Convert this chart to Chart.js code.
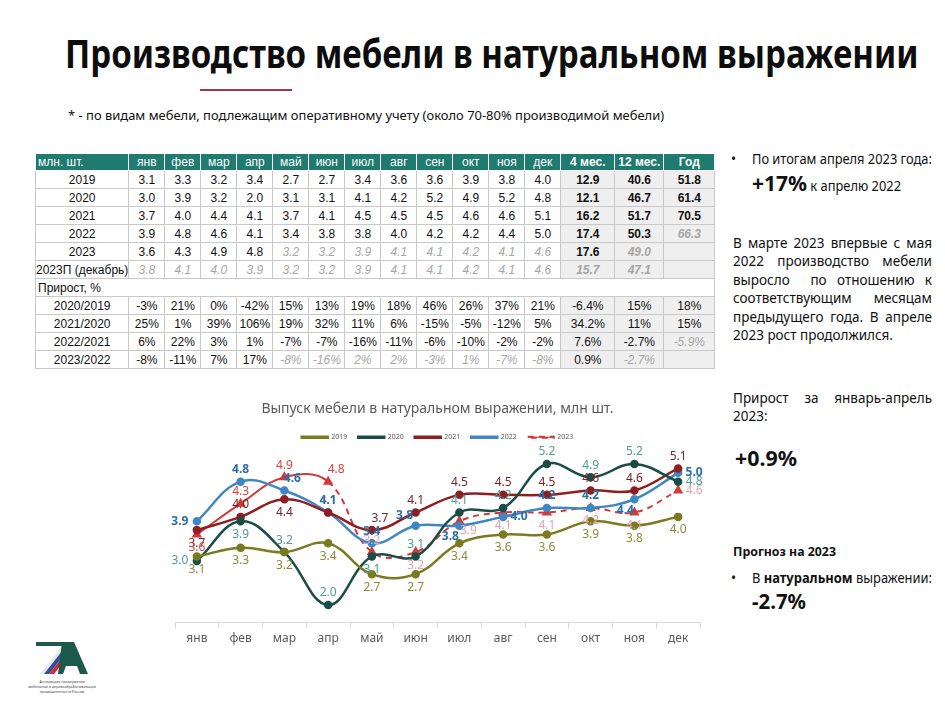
<!DOCTYPE html>
<html>
<head>
<meta charset="utf-8">
<script src="https://cdn.jsdelivr.net/npm/chart.js@4.4.0/dist/chart.umd.min.js"></script>
<style>
  body { margin: 0; width: 945px; height: 705px; background: #fff; position: relative; overflow: hidden; font-family: "Noto Sans", sans-serif; color: #111; }
  .abs { position: absolute; white-space: nowrap; transform-origin: 0 50%; }
  #title { left: 65px; top: 29px; font-size: 40px; font-weight: bold; line-height: 48px; color: #0d0d0d; }
  #redline { position: absolute; left: 200px; top: 89px; width: 92px; height: 2px; background: #9c3b4b; }
  #note { left: 68px; top: 106px; font-size: 13px; line-height: 18px; }
  #tbl { position: absolute; left: 35px; top: 154px; border-collapse: collapse; font-family: "Liberation Sans", Arial, sans-serif; font-size: 12px; table-layout: fixed; }
  #tbl td { border: 1px solid #c9c9c9; height: 17px; padding: 0; text-align: center; line-height: 16px; white-space: nowrap; overflow: hidden; }
  #tbl tr.hd td { background: #1f7a6f; color: #fff; border: 1px solid #fff; border-top: none; height: 15px; }
  #tbl tr.hd td.b { font-weight: bold; }
  #tbl td.first { text-align: center; }
  #tbl tr.hd td.first { text-align: left; padding-left: 2px; }
  #tbl td.tot { background: #efefef; }
  #tbl td.bold { font-weight: bold; }
  #tbl td.grey { color: #a6a6a6; font-style: italic; }
  #tbl tr.sec td { text-align: left; padding-left: 2px; border-left: 1px solid #c9c9c9; border-right: 1px solid #c9c9c9; }
  .txt { position: absolute; font-size: 13.5px; line-height: 18.4px; color: #111; }
  .big { font-weight: bold; font-size: 22px; }
  #chartBox { position: absolute; left: 150px; top: 395px; width: 570px; height: 262px; }
</style>
</head>
<body>
<div id="title" class="abs" data-w="853">Производство мебели в натуральном выражении</div>
<div id="redline"></div>
<div id="note" class="abs" data-w="596">* - по видам мебели, подлежащим оперативному учету (около 70-80% производимой мебели)</div>

<table id="tbl"></table>

<div class="txt" style="left:731px; top:150px;">•</div>
<div class="txt abs" style="left:752px; top:150px;" data-w="180">По итогам апреля 2023 года:</div>
<div class="txt abs" style="left:752px; top:173px;" data-w="149"><span class="big">+17%</span> к апрелю 2022</div>

<div class="txt" style="left:733px; top:234px; width:199px; text-align:justify;">
В марте 2023 впервые с мая 2022 производство мебели выросло&nbsp; по отношению к соответствующим месяцам предыдущего года. В апреле 2023 рост продолжился.</div>

<div class="txt" style="left:733px; top:389px; width:199px; text-align:justify;">Прирост за январь-апрель 2023:</div>
<div class="txt abs big" style="left:735px; top:448px;" data-w="62">+0.9%</div>

<div class="txt abs" style="left:733px; top:542px; font-weight:bold; font-size:13px;" data-w="103">Прогноз на 2023</div>
<div class="txt" style="left:731px; top:569px;">•</div>
<div class="txt abs" style="left:752px; top:569px;" data-w="180">В <b>натуральном</b> выражении:</div>
<div class="txt abs big" style="left:752px; top:591px;" data-w="54">-2.7%</div>

<svg style="position:absolute; left:22px; top:638px;" width="80" height="62" viewBox="0 0 80 62">
  <polygon points="14,4 42,4 40,8 14,8" fill="#1d5a4c"/>
  <polygon points="40,8 44,8 22,36 18,36" fill="#e8e8e8"/>
  <polygon points="44,8 49,8 27,36 22,36" fill="#2d4fa1"/>
  <polygon points="49,8 54,8 32,36 27,36" fill="#d3283a"/>
  <polygon points="40,4 52,4 66,36 58,36 55,28 44,28 41,36 36,36" fill="#1d5a4c"/>
  <text x="40" y="45" font-size="3.6" text-anchor="middle" fill="#444">Ассоциация предприятий</text>
  <text x="40" y="50" font-size="3.6" text-anchor="middle" fill="#444">мебельной и деревообрабатывающей</text>
  <text x="40" y="55" font-size="3.6" text-anchor="middle" fill="#444">промышленности России</text>
</svg>

<div id="chartBox"><canvas id="myChart"></canvas></div>

<script>
const months = ['янв', 'фев', 'мар', 'апр', 'май', 'июн', 'июл', 'авг', 'сен', 'окт', 'ноя', 'дек'];
const years = ['2019', '2020', '2021', '2022', '2023'];

const v2019 = [3.1, 3.3, 3.2, 3.4, 2.7, 2.7, 3.4, 3.6, 3.6, 3.9, 3.8, 4.0];
const v2020 = [3.0, 3.9, 3.2, 2.0, 3.1, 3.1, 4.1, 4.2, 5.2, 4.9, 5.2, 4.8];
const v2021 = [3.7, 4.0, 4.4, 4.1, 3.7, 4.1, 4.5, 4.5, 4.5, 4.6, 4.6, 5.1];
const v2022 = [3.9, 4.8, 4.6, 4.1, 3.4, 3.8, 3.8, 4.0, 4.2, 4.2, 4.4, 5.0];
const v2023 = [3.6, 4.3, 4.9, 4.8, 3.2, 3.2, 3.9, 4.1, 4.1, 4.2, 4.1, 4.6];
const v2023p = [3.8, 4.1, 4.0, 3.9, 3.2, 3.2, 3.9, 4.1, 4.1, 4.2, 4.1, 4.6];

const sum4 = ['12.9', '12.1', '16.2', '17.4', '17.6', '15.7'];
const sum12 = ['40.6', '46.7', '51.7', '50.3', '49.0', '47.1'];
const yearTotal = ['51.8', '61.4', '70.5', '66.3', '', ''];

const g2020 = ['-3%', '21%', '0%', '-42%', '15%', '13%', '19%', '18%', '46%', '26%', '37%', '21%', '-6.4%', '15%', '18%'];
const g2021 = ['25%', '1%', '39%', '106%', '19%', '32%', '11%', '6%', '-15%', '-5%', '-12%', '5%', '34.2%', '11%', '15%'];
const g2022 = ['6%', '22%', '3%', '1%', '-7%', '-7%', '-16%', '-11%', '-6%', '-10%', '-2%', '-2%', '7.6%', '-2.7%', '-5.9%'];
const g2023 = ['-8%', '-11%', '7%', '17%', '-8%', '-16%', '2%', '2%', '-3%', '1%', '-7%', '-8%', '0.9%', '-2.7%', ''];

// ---- table ----
const colW = [93].concat(Array(12).fill(36), [54, 49, 51]);
const tbl = document.getElementById('tbl');
let html = '<colgroup>' + colW.map(w => `<col style="width:${w}px">`).join('') + '</colgroup>';
html += '<tr class="hd"><td class="first">млн. шт.</td>' + months.map(m => `<td>${m}</td>`).join('') +
  '<td class="b">4 мес.</td><td class="b">12 мес.</td><td class="b">Год</td></tr>';

function row(label, cells, greyFrom, greyExtra) {
  let s = `<tr><td class="first">${label}</td>`;
  cells.forEach((c, i) => {
    let cls = [];
    if (i >= 12) cls.push('tot');
    if (greyExtra.includes(i) || (i >= greyFrom && i < 12)) cls.push('grey');
    s += `<td class="${cls.join(' ')}">${c}</td>`;
  });
  return s + '</tr>';
}
const volRows = [v2019, v2020, v2021, v2022, v2023, v2023p];
const volLabels = ['2019', '2020', '2021', '2022', '2023', '2023П (декабрь)'];
const volGrey = [[99, []], [99, []], [99, []], [99, [14]], [4, [13]], [0, [12, 13]]];
volRows.forEach((r, k) => {
  const cells = r.map(v => v.toFixed(1)).concat([sum4[k], sum12[k], yearTotal[k]]);
  let s = row(volLabels[k], cells, volGrey[k][0], volGrey[k][1]);
  // totals are bold
  s = s.replace(/class="tot( grey)?"/g, 'class="tot bold$1"');
  html += s;
});
html += '<tr class="sec"><td colspan="16">Прирост, %</td></tr>';
html += row('2020/2019', g2020, 99, []);
html += row('2021/2020', g2021, 99, []);
html += row('2022/2021', g2022, 99, [14]);
html += row('2023/2022', g2023, 4, [13]);
tbl.innerHTML = html;

// squeeze some single-line texts to their measured widths
document.querySelectorAll('[data-w]').forEach(el => {
  const w = el.getBoundingClientRect().width;
  el.style.transform = `scaleX(${(+el.dataset.w / w).toFixed(3)})`;
});

// ---- chart ----
const lineColors = ['#7a7a1f', '#1b4d47', '#8e1f21', '#3f86c4', '#d23a3a'];
const labelColors = ['#8c8a3a', '#4f9c93', '#7b2323', '#2f6ea5', '#d9443f'];
const place = [
  ['b', 'b', 'b', 'b', 'b', 'b', 'b', 'b', 'b', 'b', 'b', 'b'],
  ['l', 'b', 'a', 'a', 'b', 'a', 'a', 'a', 'a', 'a', 'a', 'r'],
  ['b', 'a', 'b', 'a', 'ar', 'a', 'a', 'a', 'a', 'a', 'a', 'a'],
  ['l', 'a', 'ar', 'a', 'a', 'al', 'bl', 'r', 'a', 'a', 'bl', 'r'],
  ['b', 'a', 'a', 'ar', 'a', 'b', 'br', 'b', 'b', 'b', 'b', 'r']
];
const offs = { a: [0, -12], b: [0, 13], l: [-17, 0], r: [16, 0], al: [-11, -10], ar: [8, -12], bl: [-9, 11], br: [9, 9] };

const pointLabels = {
  id: 'pointLabels',
  afterDatasetsDraw(chart) {
    const ctx = chart.ctx;
    ctx.save();
    ctx.textAlign = 'center';
    ctx.textBaseline = 'middle';
    chart.data.datasets.forEach((ds, i) => {
      chart.getDatasetMeta(i).data.forEach((pt, j) => {
        const o = offs[place[i][j]];
        let col = labelColors[i];
        if (i === 4 && j > 3) col = '#e6a3b4';
        ctx.fillStyle = col;
        ctx.font = (i === 3 ? 'bold ' : '') + '12px "Noto Sans"';
        ctx.fillText(ds.data[j].toFixed(1), pt.x + o[0], pt.y + o[1]);
      });
    });
    ctx.restore();
  }
};

const seriesData = [v2019, v2020, v2021, v2022, v2023];
const datasets = seriesData.map((d, i) => ({
  label: years[i],
  data: d,
  borderColor: lineColors[i],
  backgroundColor: lineColors[i],
  borderWidth: i === 4 ? 2 : 2.5,
  pointRadius: i === 4 ? 4 : 3,
  pointStyle: i === 4 ? 'triangle' : 'circle',
  tension: 0.4,
  borderDash: i === 4 ? [6, 5] : [],
  segment: i === 4 ? { borderDash: c => c.p0DataIndex >= 3 ? [6, 5] : [] } : {}
}));

new Chart(document.getElementById('myChart'), {
  type: 'line',
  data: { labels: months, datasets: datasets },
  plugins: [pointLabels],
  options: {
    responsive: true,
    maintainAspectRatio: false,
    animation: false,
    layout: { padding: { left: 25, right: 20, top: 0, bottom: 8 } },
    plugins: {
      tooltip: { enabled: false },
      title: {
        display: true,
        text: 'Выпуск мебели в натуральном выражении, млн шт.',
        color: '#595959',
        font: { size: 14, weight: 'normal', family: 'Noto Sans' },
        padding: { top: 6, bottom: 5 }
      },
      legend: {
        labels: {
          boxWidth: 26,
          boxHeight: 1,
          padding: 11,
          color: '#595959',
          font: { size: 7, family: 'Noto Sans' }
        }
      }
    },
    scales: {
      y: { display: false, min: 1.6, max: 5.5 },
      x: {
        offset: true,
        border: { color: '#d9d9d9' },
        grid: { display: true, drawOnChartArea: false, offset: true, tickLength: 6, color: '#d9d9d9' },
        ticks: { color: '#595959', font: { size: 12, family: 'Noto Sans' } }
      }
    }
  }
});
</script>
</body>
</html>
